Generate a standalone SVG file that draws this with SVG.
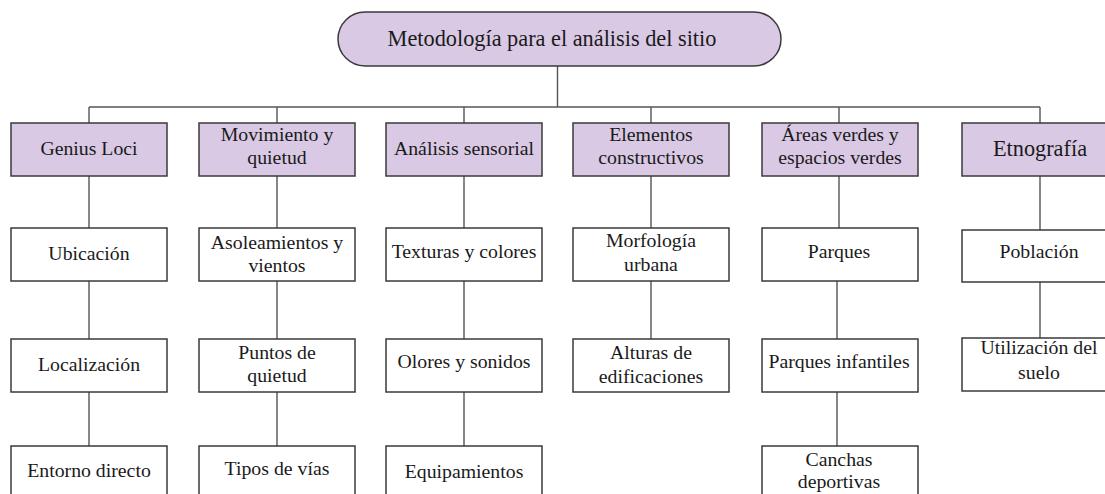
<svg xmlns="http://www.w3.org/2000/svg" width="1105" height="494" viewBox="0 0 1105 494">
<style>
.hdr{fill:#D9C9E4;stroke:#3a3a3a;stroke-width:1.5}
.box{fill:#ffffff;stroke:#3a3a3a;stroke-width:1.5}
.t{font-family:"Liberation Serif","Times New Roman",serif;font-size:19.8px;fill:#1a1a1a;text-anchor:middle}
.big{font-size:22.3px}
.c{stroke:#555555;stroke-width:1.4;fill:none}
</style>
<rect width="1105" height="494" fill="#ffffff"/>
<g id="connectors">
<path class="c" d="M557.5 66V107M89 107H1040M89 107V123M277 107V123M464 107V123M651 107V123M839 107V123M1040 107V123"/>
<path class="c" d="M89 176V228M89 281V339M89 392V446"/>
<path class="c" d="M277 176V228M277 281V339M277 392V446"/>
<path class="c" d="M464 176V228M464 281V339M464 392V446"/>
<path class="c" d="M651 176V228M651 281V339"/>
<path class="c" d="M839 176V228M837 281V339M837 392V446"/>
<path class="c" d="M1040 176V230M1040 282V338"/>
</g>
<g id="title">
<rect class="hdr" x="338" y="12" width="443" height="54" rx="27" ry="27"/>
<text class="t big" x="552" y="46">Metodología para el análisis del sitio</text>
</g>
<g id="genius-loci"><rect class="hdr" x="11" y="123" width="156" height="53"/><text class="t" x="89" y="155">Genius Loci</text></g>
<g id="movimiento"><rect class="hdr" x="199" y="123" width="156" height="53"/><text class="t" x="277" y="141">Movimiento y</text><text class="t" x="277" y="164">quietud</text></g>
<g id="analisis-sensorial"><rect class="hdr" x="386" y="123" width="156" height="53"/><text class="t" x="464" y="155">Análisis sensorial</text></g>
<g id="elementos"><rect class="hdr" x="573" y="123" width="156" height="53"/><text class="t" x="651" y="141">Elementos</text><text class="t" x="651" y="164">constructivos</text></g>
<g id="areas-verdes"><rect class="hdr" x="762" y="123" width="156" height="53"/><text class="t" x="840" y="141">Áreas verdes y</text><text class="t" x="840" y="164">espacios verdes</text></g>
<g id="etnografia"><rect class="hdr" x="962" y="123" width="156" height="53"/><text class="t big" x="1040" y="156">Etnografía</text></g>

<g id="ubicacion"><rect class="box" x="11" y="228" width="156" height="53"/><text class="t" x="89" y="260">Ubicación</text></g>
<g id="localizacion"><rect class="box" x="11" y="339" width="156" height="53"/><text class="t" x="89" y="371">Localización</text></g>
<g id="entorno"><rect class="box" x="11" y="446" width="156" height="60"/><text class="t" x="89" y="477">Entorno directo</text></g>

<g id="asoleamientos"><rect class="box" x="199" y="228" width="156" height="53"/><text class="t" x="277" y="249">Asoleamientos y</text><text class="t" x="277" y="272">vientos</text></g>
<g id="puntos"><rect class="box" x="199" y="339" width="156" height="53"/><text class="t" x="277" y="359">Puntos de</text><text class="t" x="277" y="382">quietud</text></g>
<g id="tipos-vias"><rect class="box" x="199" y="446" width="156" height="60"/><text class="t" x="277" y="475">Tipos de vías</text></g>

<g id="texturas"><rect class="box" x="386" y="228" width="156" height="53"/><text class="t" x="464" y="258">Texturas y colores</text></g>
<g id="olores"><rect class="box" x="386" y="339" width="156" height="53"/><text class="t" x="464" y="368">Olores y sonidos</text></g>
<g id="equipamientos"><rect class="box" x="386" y="446" width="156" height="60"/><text class="t" x="464" y="478">Equipamientos</text></g>

<g id="morfologia"><rect class="box" x="573" y="228" width="156" height="53"/><text class="t" x="651" y="247">Morfología</text><text class="t" x="651" y="271">urbana</text></g>
<g id="alturas"><rect class="box" x="573" y="339" width="156" height="53"/><text class="t" x="651" y="359">Alturas de</text><text class="t" x="651" y="383">edificaciones</text></g>

<g id="parques"><rect class="box" x="762" y="228" width="156" height="53"/><text class="t" x="839" y="258">Parques</text></g>
<g id="parques-infantiles"><rect class="box" x="762" y="339" width="156" height="53"/><text class="t" x="839" y="368">Parques infantiles</text></g>
<g id="canchas"><rect class="box" x="762" y="446" width="156" height="60"/><text class="t" x="839" y="466">Canchas</text><text class="t" x="839" y="488">deportivas</text></g>

<g id="poblacion"><rect class="box" x="962" y="230" width="156" height="52"/><text class="t" x="1039" y="258">Población</text></g>
<g id="utilizacion"><rect class="box" x="962" y="338" width="156" height="53"/><text class="t" x="1039" y="354">Utilización del</text><text class="t" x="1039" y="379">suelo</text></g>
</svg>
